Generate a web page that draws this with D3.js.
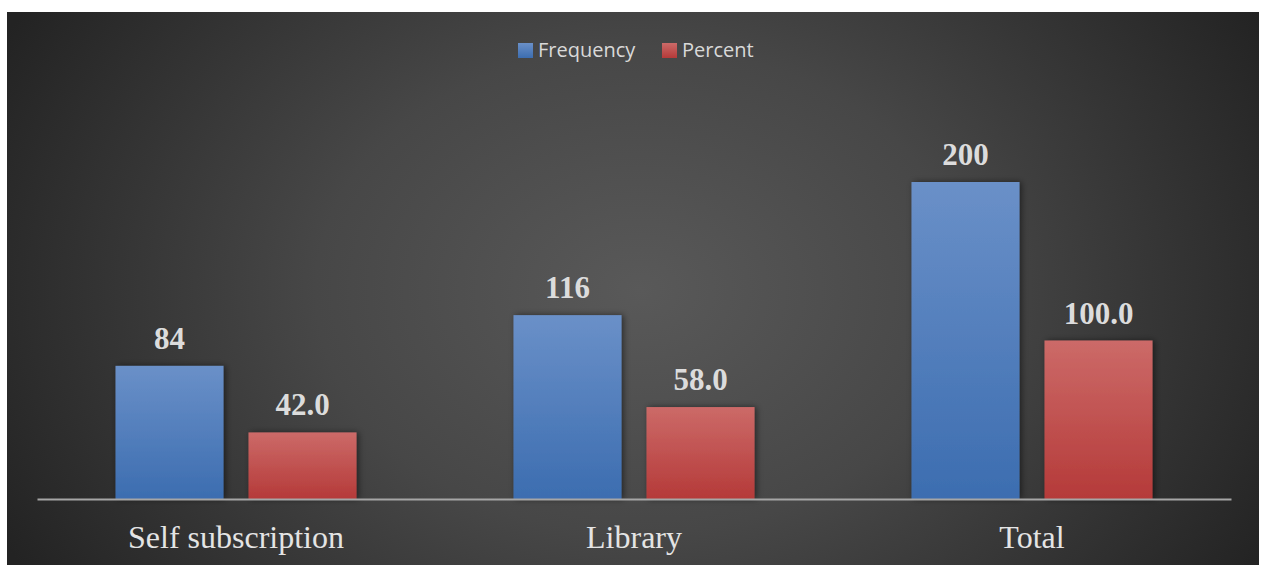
<!DOCTYPE html>
<html><head><meta charset="utf-8">
<script src="https://cdn.jsdelivr.net/npm/d3@7"></script>
<style>html,body{margin:0;padding:0;background:#fff;}</style>
</head><body>
<script>
const categories = ["Self subscription", "Library", "Total"];
const seriesNames = ["Frequency", "Percent"];
const frequency = [84, 116, 200];
const percent = [42.0, 58.0, 100.0];
const labelFormats = [d3.format("d"), d3.format(".1f")];

const W = 1261, H = 565;
const svg = d3.select("body").append("svg").attr("width", W).attr("height", H);
const defs = svg.append("defs");

const bg = defs.append("radialGradient").attr("id", "bg")
  .attr("gradientUnits", "userSpaceOnUse")
  .attr("cx", 640).attr("cy", 290).attr("r", 720)
  .attr("gradientTransform", "translate(640,290) scale(1,0.75) translate(-640,-290)");
bg.append("stop").attr("offset", 0).attr("stop-color", "#595959");
bg.append("stop").attr("offset", 0.45).attr("stop-color", "#474747");
bg.append("stop").attr("offset", 1).attr("stop-color", "#232323");

const grads = [["gBlue", "#6a90c8", "#3c6db0"], ["gRed", "#cc6a68", "#b53a39"]];
grads.forEach(([id, c1, c2]) => {
  const g = defs.append("linearGradient").attr("id", id).attr("x1", 0).attr("y1", 0).attr("x2", 0).attr("y2", 1);
  g.append("stop").attr("offset", 0).attr("stop-color", c1);
  g.append("stop").attr("offset", 1).attr("stop-color", c2);
});
const sh = defs.append("filter").attr("id", "shadow").attr("x", -0.2).attr("y", -0.2).attr("width", 1.4).attr("height", 1.4);
sh.append("feDropShadow").attr("dx", 2).attr("dy", 0).attr("stdDeviation", 3).attr("flood-color", "#000").attr("flood-opacity", 0.5);

svg.append("rect").attr("x", 7).attr("y", 12).attr("width", 1252).attr("height", 553).attr("fill", "url(#bg)");

const x0 = d3.scaleBand().domain(categories).range([37, 1231]).paddingInner(0).paddingOuter(0);
const x1 = d3.scaleBand().domain(seriesNames).range([78.5, 319.5]).paddingInner(25 / 133);
const y = d3.scaleLinear().domain([0, 250]).range([499, 499 - 396.25]);

const data = categories.map((c, i) => ({ cat: c, vals: [frequency[i], percent[i]] }));

const groups = svg.append("g").selectAll("g").data(data).join("g")
  .attr("transform", d => `translate(${x0(d.cat)},0)`);

groups.selectAll("rect").data(d => d.vals.map((v, j) => ({ v, j }))).join("rect")
  .attr("x", d => x1(seriesNames[d.j]))
  .attr("width", x1.bandwidth())
  .attr("y", d => y(d.v))
  .attr("height", d => y(0) - y(d.v))
  .attr("fill", d => d.j === 0 ? "url(#gBlue)" : "url(#gRed)")
  .attr("filter", "url(#shadow)");

groups.selectAll("text.val").data(d => d.vals.map((v, j) => ({ v, j }))).join("text")
  .attr("class", "val")
  .attr("x", d => x1(seriesNames[d.j]) + x1.bandwidth() / 2)
  .attr("y", d => y(d.v) - 17)
  .attr("text-anchor", "middle")
  .attr("font-family", "'Liberation Serif', 'Times New Roman', serif")
  .attr("font-weight", "bold")
  .attr("font-size", 31)
  .attr("fill", "#dcdcdc")
  .text(d => labelFormats[d.j](d.v));

// axis
const axis = d3.axisBottom(x0).tickSize(0).tickPadding(0);
const ax = svg.append("g").attr("transform", "translate(0,499)").call(axis);
ax.select(".domain").attr("stroke", "#a6a6a6").attr("stroke-width", 2);
ax.selectAll(".tick text")
  .attr("dy", 0).attr("y", 49)
  .attr("font-family", "'Liberation Serif', 'Times New Roman', serif")
  .attr("font-size", 32)
  .attr("fill", "#e4e4e4");

// legend
const legend = svg.append("g");
const legendItems = [{ name: "Frequency", fill: "url(#gBlue)", x: 518 }, { name: "Percent", fill: "url(#gRed)", x: 662 }];
legendItems.forEach(it => {
  legend.append("rect").attr("x", it.x).attr("y", 43).attr("width", 15).attr("height", 15).attr("fill", it.fill);
  legend.append("text").attr("x", it.x + 20).attr("y", 57)
    .attr("font-family", "'Open Sans', 'Noto Sans', sans-serif")
    .attr("font-size", 20).attr("fill", "#d9d9d9").text(it.name);
});
</script>
</body></html>
